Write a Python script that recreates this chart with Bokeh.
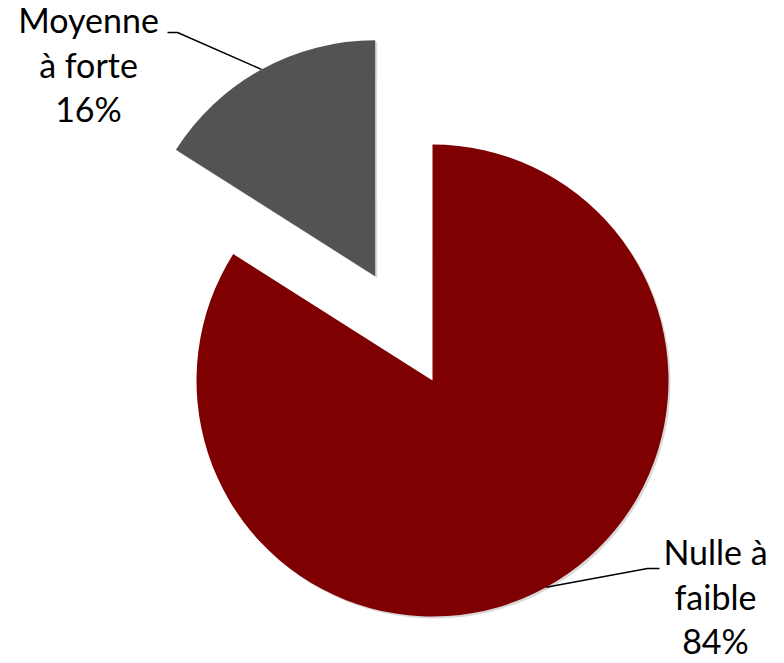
import math
from bokeh.plotting import figure
from bokeh.models import Range1d
from bokeh.core.properties import value
from bokeh.embed import file_html
from bokeh.resources import INLINE

# Data
categories = ["Nulle à faible", "Moyenne à forte"]
values = [84, 16]
label_lines = [["Nulle à", "faible"], ["Moyenne", "à forte"]]
colors = ["#7f0000", "#535353"]
explode = [0, 119]  # pixels

# Layout (image pixel coordinates; y data = -image y)
W, H = 784, 663
cx, cy = 432, -380
R = 236
label_pos = [(715, -551), (88, -19)]   # centre x, first line anchor
line_step = 44.5
elbow = [((647, -568), (659, -568)), ((177, -32), (167, -32))]

p = figure(width=W, height=H, output_backend="svg", toolbar_location=None,
           x_range=Range1d(0, W), y_range=Range1d(-H, 0),
           min_border=0)
p.axis.visible = False
p.grid.visible = False
p.outline_line_color = None
p.background_fill_color = "white"
p.border_fill_color = "white"

total = sum(values)
start = 90.0  # degrees, going clockwise from 12 o'clock
for i, v in enumerate(values):
    sweep = 360.0 * v / total
    end = start - sweep
    mid = math.radians((start + end) / 2)
    ox = cx + explode[i] * math.cos(mid)
    oy = cy + explode[i] * math.sin(mid)
    # soft shadow
    p.wedge(x=[ox + 2], y=[oy - 2], radius=R, start_angle=[math.radians(end)],
            end_angle=[math.radians(start)], color="#000000", alpha=0.15,
            line_color=None)
    p.wedge(x=[ox], y=[oy], radius=R, start_angle=[math.radians(end)],
            end_angle=[math.radians(start)], fill_color=colors[i],
            line_color=None)
    # leader line
    ex = ox + R * math.cos(mid)
    ey = oy + R * math.sin(mid)
    (x1, y1), (x2, y2) = elbow[i]
    p.line([ex, x1, x2], [ey, y1, y2], line_color="black", line_width=1.5)
    # label, one text per line
    lines = label_lines[i] + [f"{round(100 * v / total)}%"]
    lx, ly = label_pos[i]
    p.text(x=[lx] * len(lines), y=[ly - k * line_step for k in range(len(lines))],
           text=lines, text_font=value("Lato"),
           text_font_size="34px", text_align="center",
           text_baseline="alphabetic", text_color="black")
    start = end

open("out.html", "w").write(file_html(p, INLINE))
